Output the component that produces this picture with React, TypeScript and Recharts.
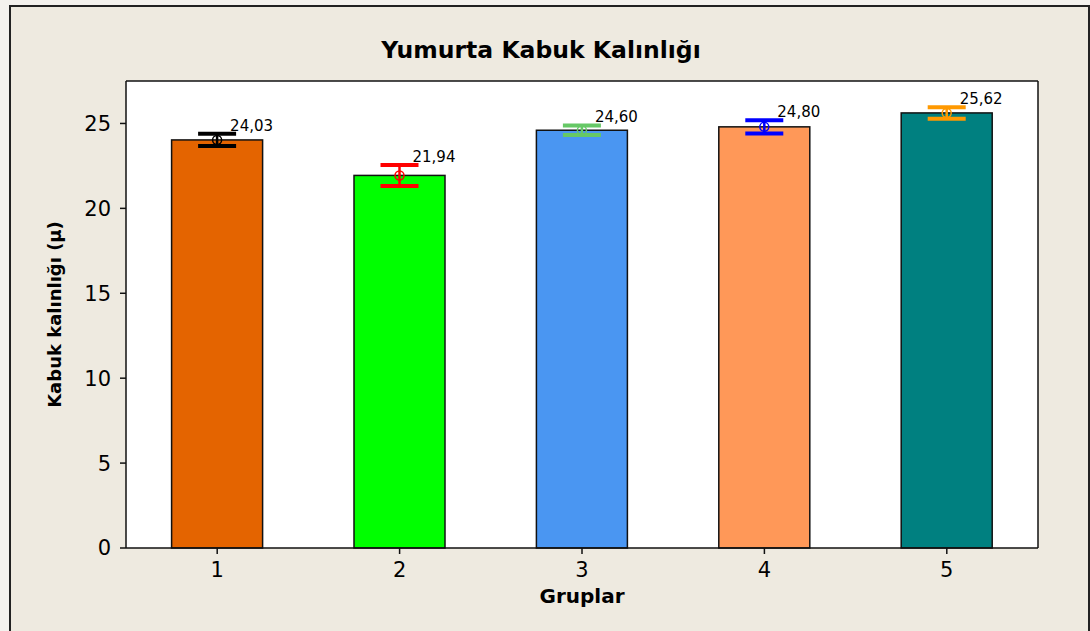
import React from 'react';
import { Bar, XAxis, YAxis, CartesianGrid, ComposedChart } from 'recharts';

const groups = ['1', '2', '3', '4', '5'];
const means = [24.03, 21.94, 24.6, 24.8, 25.62];
const errors = [0.36, 0.62, 0.28, 0.39, 0.34];
const meanLabels = ['24,03', '21,94', '24,60', '24,80', '25,62'];
const barColors = ['#E46400', '#00FF00', '#4A96F2', '#FF9858', '#008080'];
const errColors = ['#000000', '#FF0000', '#66C866', '#0000FF', '#FF9900'];
const yTicks = [0, 5, 10, 15, 20, 25];

const data = groups.map((g, i) => ({
  group: g,
  mean: means[i],
  err: errors[i],
  label: meanLabels[i],
  fill: barColors[i],
  errColor: errColors[i],
}));

const FONT = '"DejaVu Sans", Verdana, sans-serif';

const BarWithError = (props: any) => {
  const { x, y, width, height, payload } = props;
  if (!payload || !height) return null;
  const ppu = height / payload.mean;
  const cx = x + width / 2;
  const e = payload.err * ppu;
  const c = payload.errColor;
  return (
    <g>
      <rect x={x} y={y} width={width} height={height} fill={payload.fill} stroke="#111" strokeWidth={1.5} />
      <line x1={cx} x2={cx} y1={y - e} y2={y + e} stroke={c} strokeWidth={2.5} />
      <line x1={cx - 19} x2={cx + 19} y1={y - e} y2={y - e} stroke={c} strokeWidth={4} />
      <line x1={cx - 19} x2={cx + 19} y1={y + e} y2={y + e} stroke={c} strokeWidth={4} />
      <circle cx={cx} cy={y} r={4.5} fill="none" stroke={c} strokeWidth={1.5} />
      <text x={cx + 13} y={y - e - 3} fontSize={15} fontFamily={FONT} fill="#000">
        {payload.label}
      </text>
    </g>
  );
};

export default function App() {
  return (
    <div
      style={{
        position: 'fixed',
        left: 0,
        top: 0,
        width: 1090,
        height: 631,
        overflow: 'hidden',
        background: '#F4F2EE',
      }}
    >
      <div
        style={{
          position: 'absolute',
          left: 9,
          top: 5,
          width: 1077,
          height: 660,
          border: '2px solid #222',
          background: '#EEEAE0',
        }}
      />
      <svg width={1090} height={80} style={{ position: 'absolute', left: 0, top: 0 }}>
        <text x={541} y={58} textAnchor="middle" fontSize={23.5} fontWeight="bold" fontFamily={FONT} fill="#000">
          Yumurta Kabuk Kalınlığı
        </text>
      </svg>
      <div style={{ position: 'absolute', left: 0, top: 0 }}>
        <ComposedChart
          width={1090}
          height={631}
          data={data}
          margin={{ top: 81, right: 52, bottom: 23, left: 50 }}
          barCategoryGap="25%"
        >
          <CartesianGrid
            fill="#FFFFFF"
            stroke="#111"
            strokeWidth={1.5}
            horizontalCoordinatesGenerator={(p: any) => [p.offset.top]}
            verticalCoordinatesGenerator={(p: any) => [p.offset.left + p.offset.width]}
          />
          <XAxis
            dataKey="group"
            height={60}
            tickSize={6}
            tickMargin={8}
            axisLine={{ stroke: '#111', strokeWidth: 1.5 }}
            tickLine={{ stroke: '#111', strokeWidth: 1.5 }}
            tick={{ fontSize: 21, fill: '#000', fontFamily: FONT }}
            label={{
              value: 'Gruplar',
              position: 'insideBottom',
              offset: 5,
              style: { fontSize: 20, fontWeight: 'bold', fill: '#000', fontFamily: FONT },
            }}
          />
          <YAxis
            domain={[0, 27.5]}
            ticks={yTicks}
            width={76}
            tickSize={6}
            tickMargin={9}
            axisLine={{ stroke: '#111', strokeWidth: 1.5 }}
            tickLine={{ stroke: '#111', strokeWidth: 1.5 }}
            tick={{ fontSize: 21, fill: '#000', fontFamily: FONT }}
            label={{
              value: 'Kabuk kalınlığı (µ)',
              angle: -90,
              position: 'insideLeft',
              offset: 5,
              style: { textAnchor: 'middle', fontSize: 18, fontWeight: 'bold', fill: '#000', fontFamily: FONT },
            }}
          />
          <Bar dataKey="mean" shape={BarWithError} isAnimationActive={false} />
        </ComposedChart>
      </div>
    </div>
  );
}
